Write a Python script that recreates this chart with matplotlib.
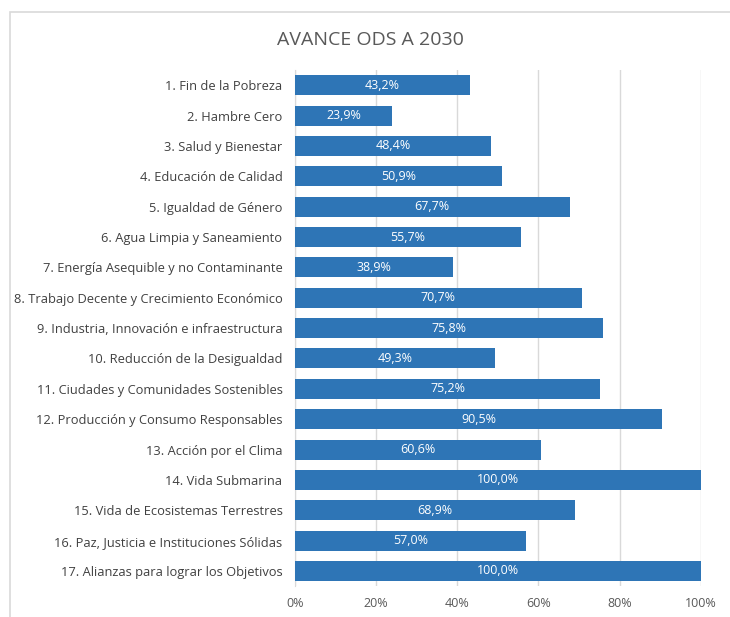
import numpy as np
import matplotlib
matplotlib.use('Agg')
import matplotlib.pyplot as plt
from matplotlib.patches import Rectangle

# ODS progress data
categories = [
    '1. Fin de la Pobreza',
    '2. Hambre Cero',
    '3. Salud y Bienestar',
    '4. Educación de Calidad',
    '5. Igualdad de Género',
    '6. Agua Limpia y Saneamiento',
    '7. Energía Asequible y no Contaminante',
    '8. Trabajo Decente y Crecimiento Económico',
    '9. Industria, Innovación e infraestructura',
    '10. Reducción de la Desigualdad',
    '11. Ciudades y Comunidades Sostenibles',
    '12. Producción y Consumo Responsables',
    '13. Acción por el Clima',
    '14. Vida Submarina',
    '15. Vida de Ecosistemas Terrestres',
    '16. Paz, Justicia e Instituciones Sólidas',
    '17. Alianzas para lograr los Objetivos',
]
values = [43.2, 23.9, 48.4, 50.9, 67.7, 55.7, 38.9, 70.7, 75.8, 49.3,
          75.2, 90.5, 60.6, 100.0, 68.9, 57.0, 100.0]
xticks = [0, 20, 40, 60, 80, 100]

plt.rcParams['font.family'] = ['Open Sans', 'DejaVu Sans']

fig = plt.figure(figsize=(7.3, 6.17), dpi=100)
ax = fig.add_axes([0.404, 0.050, 0.556, 0.8365])

# light frame like the spreadsheet chart area
fig.patches.append(Rectangle((10 / 730, -0.1), 1.2, 1 - 12 / 617 + 0.1,
                             transform=fig.transFigure, fill=False,
                             edgecolor='#d9d9d9', linewidth=1.2))

y = np.arange(len(categories))
bars = ax.barh(y, values, height=0.66, color='#2e75b6', zorder=3)
for yi, v in zip(y, values):
    ax.text(v / 2, yi, ('%.1f%%' % v).replace('.', ','), ha='center',
            va='center', color='white', fontsize=9, zorder=4)

ax.set_ylim(len(categories) - 0.5, -0.5)
ax.set_xlim(0, 100)
ax.set_yticks(y)
ax.set_yticklabels(categories, fontsize=9.3, color='#404040')
ax.set_xticks(xticks)
ax.set_xticklabels(['%d%%' % t for t in xticks], fontsize=9, color='#595959')
ax.tick_params(axis='both', length=0)
ax.tick_params(axis='y', pad=9)
ax.tick_params(axis='x', pad=8)
ax.grid(axis='x', color='#d9d9d9', linewidth=1, zorder=0)
for s in ['top', 'right', 'bottom']:
    ax.spines[s].set_visible(False)
ax.spines['left'].set_color('#d9d9d9')

fig.text(0.507, 0.935, 'AVANCE ODS A 2030', ha='center', va='center',
         fontsize=14, color='#595959')

fig.savefig('out.png', dpi=100)
